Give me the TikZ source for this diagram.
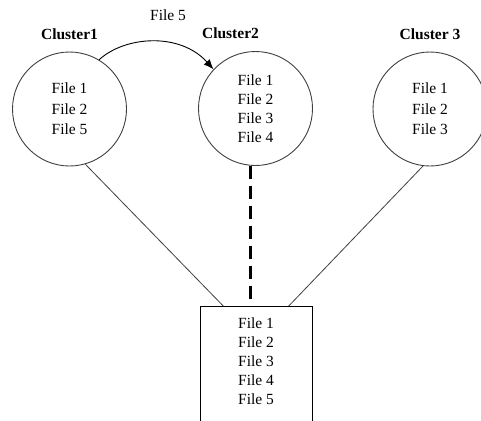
\documentclass[tikz,border=0pt]{standalone}
\usepackage{fontspec}
\setmainfont{Liberation Serif}
\usetikzlibrary{positioning,calc,arrows.meta}

\tikzset{
  cluster/.style={circle, draw=black!75, line width=0.9pt, minimum size=114pt,
    inner sep=0pt, align=center, font=\fontsize{15.5}{19}\selectfont},
  clustername/.style={inner sep=0pt, font=\bfseries\fontsize{15.5}{18}\selectfont},
  filebox/.style={draw, line width=0.9pt, anchor=north, minimum width=112pt,
    align=center, inner ysep=11pt, text height=87pt, text depth=40pt,
    font=\fontsize{15.5}{19}\selectfont},
  link/.style={draw=black!75, line width=0.8pt},
  mirror/.style={line width=2.6pt, dash pattern=on 13pt off 7pt},
  move/.style={line width=0.9pt, -{Latex[length=10pt,width=8pt]}},
}

\begin{document}
\begin{tikzpicture}[x=1pt,y=-1pt]
	\useasboundingbox (0,0) rectangle (481,420);
	\clip (0,0) rectangle (481,420);
	\fill[white] (0,0) rectangle (481,420);

	% clusters
	\node[cluster, font=\fontsize{15.5}{20.5}\selectfont] (c1) at (69.5,109) {File 1\\File 2\\File 5};
	\node[cluster] (c2) at (255.5,108.5) {File 1\\File 2\\File 3\\File 4};
	\node[cluster, font=\fontsize{15.5}{20.5}\selectfont] (c3) at (430,109) {File 1\\File 2\\File 3};

	\node[clustername, above=12pt of c1] (name1) {Cluster1};
	\node[clustername, above=12pt of c2, xshift=-25pt] (name2) {Cluster2};
	\node[clustername, above=12pt of c3] (name3) {Cluster 3};

	% central store
	\node[filebox] (store) at (256,306) {File 1\\File 2\\File 3\\File 4\\File 5};

	\draw[link] (c1.-74) -- ($(store.north west)!0.21!(store.north east)$);
	\draw[link] (c3.-97) -- ($(store.north west)!0.79!(store.north east)$);
	\draw[mirror] (c2.265) -- (c2.265 |- store.north);

	% file moved from cluster 1 to cluster 2
	\draw[move] (c1.59) .. controls (125,36) and (180,32) .. (c2.137);
	\node[font=\fontsize{15.5}{18}\selectfont] (moved) at (168,15) {File 5};
\end{tikzpicture}
\end{document}
